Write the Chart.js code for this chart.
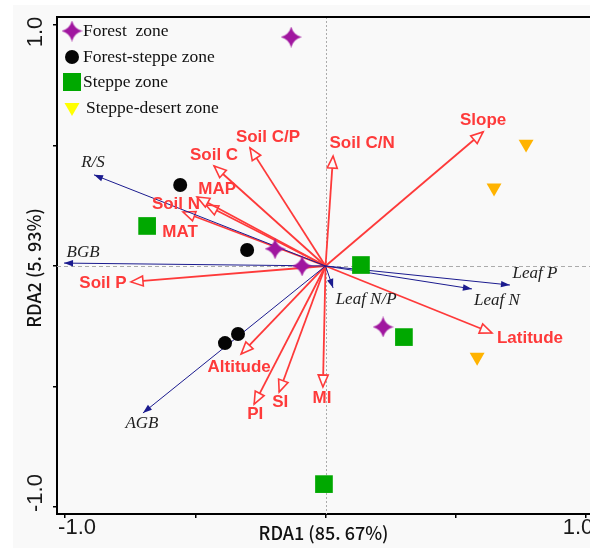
<!DOCTYPE html>
<html>
<head>
<meta charset="utf-8">
<script src="https://cdn.jsdelivr.net/npm/chart.js@4/dist/chart.umd.min.js"></script>
<style>
  html, body { margin: 0; padding: 0; background: #fff; }
  canvas { display: block; }
</style>
</head>
<body>
<canvas id="rda" width="590" height="548"></canvas>
<script>
// Site scores on RDA1 / RDA2, grouped by vegetation zone
const zoneNames = ['Forest  zone', 'Forest-steppe zone', 'Steppe zone', 'Steppe-desert zone'];
const forestZone = [
  { x: -0.132, y: 0.950 }, { x: -0.194, y: 0.071 }, { x: -0.090, y: 0.000 }, { x: 0.221, y: -0.253 }
];
const forestSteppeZone = [
  { x: -0.558, y: 0.336 }, { x: -0.301, y: 0.066 }, { x: -0.336, y: -0.282 }, { x: -0.386, y: -0.320 }
];
const steppeZone = [
  { x: -0.685, y: 0.166 }, { x: 0.136, y: 0.004 }, { x: 0.301, y: -0.295 }, { x: -0.006, y: -0.905 }
];
const steppeDesertZone = [
  { x: 0.770, y: 0.506 }, { x: 0.647, y: 0.324 }, { x: 0.582, y: -0.378 }
];

// Explanatory variables (red biplot arrows)
const envNames = ['Slope', 'Soil C/N', 'Soil C/P', 'Soil C', 'MAP', 'Soil N', 'MAT',
                  'Soil P', 'Altitude', 'PI', 'SI', 'MI', 'Latitude'];
const envX = [0.605, 0.029, -0.290, -0.428, -0.493, -0.459, -0.547, -0.747, -0.324, -0.274, -0.178, -0.010, 0.639];
const envY = [0.556, 0.456, 0.490, 0.415, 0.286, 0.253, 0.224, -0.066, -0.365, -0.573, -0.523, -0.502, -0.278];

// Response variables (blue arrows)
const respNames = ['R/S', 'BGB', 'AGB', 'Leaf P', 'Leaf N', 'Leaf N/P'];
const respX = [-0.889, -1.004, -0.701, 0.708, 0.562, 0.029];
const respY = [0.378, 0.012, -0.610, -0.079, -0.095, -0.091];

// Axes
const axisTicks = [-1, -0.5, 0, 0.5, 1];
const labelledTicks = [-1, 1];
const xTitle = 'RDA1 (85. 67%)';
const yTitle = 'RDA2 (5. 93%)';

// ---- styling / layout ----
const RED = '#fe3a3a';
const NAVY = '#1b1b8f';
const PURPLE = '#a0169f';
const GREEN = '#00a800';
const ORANGE = '#ffb300';
const YELLOW = '#ffff00';

// label offsets in pixels from each arrow tip
const envLabelOffset = [[0, -12], [29, -13], [18, -11], [0, -11], [20, -8], [-30, -1], [-3, 20],
                        [-28, 1], [-2, 13], [1, 10], [1, 10], [-1, 11], [38, 5]];
const respLabelOffset = [[-1, -12], [19, -11], [-1, 11], [25, -11], [25, 12], [33, 12]];

function makeStar(size, color) {
  const c = document.createElement('canvas');
  c.width = c.height = size;
  const g = c.getContext('2d');
  const h = size / 2, k = size * 0.1;
  g.fillStyle = color;
  g.beginPath();
  g.moveTo(h, 0);
  g.quadraticCurveTo(h + k, h - k, size, h);
  g.quadraticCurveTo(h + k, h + k, h, size);
  g.quadraticCurveTo(h - k, h + k, 0, h);
  g.quadraticCurveTo(h - k, h - k, h, 0);
  g.closePath();
  g.fill();
  return c;
}
const starImg = makeStar(21, PURPLE);

function arrowSet(xs, ys, color, width, order, kind) {
  return xs.map((vx, i) => ({
    data: [{ x: 0, y: 0 }, { x: vx, y: ys[i] }],
    showLine: true,
    borderColor: color,
    borderWidth: width,
    pointRadius: 0,
    order: order,
    arrowKind: kind,
    arrowIndex: i
  }));
}

const datasets = [
  ...arrowSet(envX, envY, RED, 1.8, 3, 'env'),
  ...arrowSet(respX, respY, NAVY, 1, 2, 'resp'),
  { label: zoneNames[0], data: forestZone, pointStyle: starImg, pointRadius: 10, backgroundColor: PURPLE, borderWidth: 0, order: 1 },
  { label: zoneNames[1], data: forestSteppeZone, pointStyle: 'circle', pointRadius: 7, backgroundColor: '#050505', borderWidth: 0, order: 1 },
  { label: zoneNames[2], data: steppeZone, pointStyle: 'rect', pointRadius: 12.5, backgroundColor: GREEN, borderWidth: 0, order: 1 },
  { label: zoneNames[3], data: steppeDesertZone, pointStyle: 'triangle', pointRotation: 180, pointRadius: 8.6, backgroundColor: ORANGE, borderWidth: 0, order: 1 }
];

function drawHead(ctx, ox, oy, tx, ty, len, half, fill, stroke, lw) {
  const dx = tx - ox, dy = ty - oy, d = Math.hypot(dx, dy);
  const ux = dx / d, uy = dy / d, nx = -uy, ny = ux;
  const bx = tx - ux * len, by = ty - uy * len;
  ctx.beginPath();
  ctx.moveTo(tx, ty);
  ctx.lineTo(bx + nx * half, by + ny * half);
  ctx.lineTo(bx - nx * half, by - ny * half);
  ctx.closePath();
  ctx.fillStyle = fill;
  ctx.fill();
  if (stroke) {
    ctx.strokeStyle = stroke;
    ctx.lineWidth = lw;
    ctx.lineJoin = 'miter';
    ctx.stroke();
  }
}

const rdaDecor = {
  id: 'rdaDecor',
  beforeDraw(chart) {
    const ctx = chart.ctx;
    ctx.save();
    ctx.fillStyle = '#ffffff';
    ctx.fillRect(0, 0, chart.width, chart.height);
    ctx.fillStyle = '#f9f9f9';
    ctx.fillRect(13, 5, chart.width - 13, chart.height - 5);
    ctx.restore();
  },
  beforeDatasetsDraw(chart) {
    const { ctx, chartArea: a, scales: { x, y } } = chart;
    const x0 = Math.round(x.getPixelForValue(0)) + 0.5;
    const y0 = Math.round(y.getPixelForValue(0)) + 0.5;
    ctx.save();
    ctx.strokeStyle = '#ababab';
    ctx.lineWidth = 1;
    ctx.setLineDash([2, 2]);
    ctx.beginPath(); ctx.moveTo(x0, a.top); ctx.lineTo(x0, a.bottom); ctx.stroke();
    ctx.setLineDash([4, 3]);
    ctx.beginPath(); ctx.moveTo(a.left, y0); ctx.lineTo(a.right, y0); ctx.stroke();
    ctx.restore();
  },
  afterDatasetDraw(chart, args) {
    const ds = chart.data.datasets[args.index];
    if (!ds.arrowKind) return;
    const { ctx, scales: { x, y } } = chart;
    const ox = x.getPixelForValue(0), oy = y.getPixelForValue(0);
    const tx = x.getPixelForValue(ds.data[1].x), ty = y.getPixelForValue(ds.data[1].y);
    ctx.save();
    if (ds.arrowKind === 'env') {
      drawHead(ctx, ox, oy, tx, ty, 12, 5, '#fbfbfb', RED, 1.6);
    } else {
      drawHead(ctx, ox, oy, tx, ty, 9, 3.2, NAVY, null, 0);
    }
    ctx.restore();
  },
  afterDatasetsDraw(chart) {
    const { ctx, scales: { x, y } } = chart;
    ctx.save();
    ctx.textAlign = 'center';
    ctx.textBaseline = 'middle';
    ctx.fillStyle = RED;
    ctx.font = 'bold 17px "Liberation Sans", Arial, sans-serif';
    envNames.forEach((n, i) => {
      const px = x.getPixelForValue(envX[i]) + envLabelOffset[i][0];
      const py = y.getPixelForValue(envY[i]) + envLabelOffset[i][1];
      ctx.fillText(n, px, py);
    });
    ctx.fillStyle = '#1e1e1e';
    ctx.font = 'italic 17px "Liberation Serif", "Times New Roman", serif';
    respNames.forEach((n, i) => {
      const px = x.getPixelForValue(respX[i]) + respLabelOffset[i][0];
      const py = y.getPixelForValue(respY[i]) + respLabelOffset[i][1];
      ctx.fillText(n, px, py);
    });
    ctx.restore();
  },
  afterDraw(chart) {
    const { ctx, chartArea: a, scales: { x, y } } = chart;
    ctx.save();
    // top frame line
    ctx.strokeStyle = '#000';
    ctx.lineWidth = 2;
    ctx.beginPath(); ctx.moveTo(a.left - 1, a.top); ctx.lineTo(chart.width, a.top); ctx.stroke();

    // tick labels
    ctx.fillStyle = '#1a1a1a';
    ctx.font = '22px "Liberation Sans", Arial, sans-serif';
    ctx.textAlign = 'center';
    ctx.textBaseline = 'middle';
    labelledTicks.forEach(v => {
      const lbl = v.toFixed(1);
      const px = x.getPixelForValue(v) + (v < 0 ? 12 : -8);
      ctx.fillText(lbl, px, 528);
      const py = y.getPixelForValue(v) + (v < 0 ? -14 : 7);
      ctx.save();
      ctx.translate(36, py);
      ctx.rotate(-Math.PI / 2);
      ctx.fillText(lbl, 0, 0);
      ctx.restore();
    });

    // axis titles
    ctx.fillStyle = '#111';
    ctx.font = '500 18px "Noto Sans CJK SC", "Noto Sans", sans-serif';
    ctx.fillText(xTitle, x.getPixelForValue(0) - 2, 533);
    ctx.save();
    ctx.translate(34, y.getPixelForValue(0) + 2);
    ctx.rotate(-Math.PI / 2);
    ctx.fillText(yTitle, 0, 0);
    ctx.restore();

    // legend
    const rows = [31, 57, 82, 108];
    const mx = 72;
    ctx.drawImage(starImg, mx - 10.5, rows[0] - 10.5);
    ctx.fillStyle = '#050505';
    ctx.beginPath(); ctx.arc(mx, rows[1], 7, 0, Math.PI * 2); ctx.fill();
    ctx.fillStyle = GREEN;
    ctx.fillRect(mx - 9, rows[2] - 9, 18, 18);
    ctx.fillStyle = YELLOW;
    ctx.beginPath();
    ctx.moveTo(mx - 7.5, rows[3] - 5); ctx.lineTo(mx + 7.5, rows[3] - 5); ctx.lineTo(mx, rows[3] + 8);
    ctx.closePath(); ctx.fill();
    ctx.fillStyle = '#111';
    ctx.font = '17.5px "Liberation Serif", "Times New Roman", serif';
    ctx.textAlign = 'left';
    zoneNames.forEach((n, i) => ctx.fillText(n, i === 3 ? 86 : 83, rows[i]));
    ctx.restore();
  }
};

function axisCfg(min, max, fit) {
  return {
    type: 'linear',
    min: min,
    max: max,
    afterBuildTicks: s => { s.ticks = axisTicks.map(v => ({ value: v })); },
    afterFit: fit,
    ticks: { display: false },
    grid: { drawOnChartArea: false, drawTicks: true, tickLength: 4, color: '#000', lineWidth: 1.5 },
    border: { display: true, color: '#000', width: 2 },
    title: { display: false }
  };
}

new Chart(document.getElementById('rda'), {
  type: 'scatter',
  data: { datasets },
  options: {
    responsive: false,
    devicePixelRatio: 1,
    animation: false,
    events: [],
    layout: { autoPadding: false, padding: { top: 17, right: 0, left: 0, bottom: 0 } },
    plugins: { legend: { display: false }, tooltip: { enabled: false } },
    scales: {
      x: axisCfg(-1.031, 1.0154, s => { s.height = 34; }),
      y: axisCfg(-1.029, 1.033, s => { s.width = 57; })
    }
  },
  plugins: [rdaDecor]
});
</script>
</body>
</html>
